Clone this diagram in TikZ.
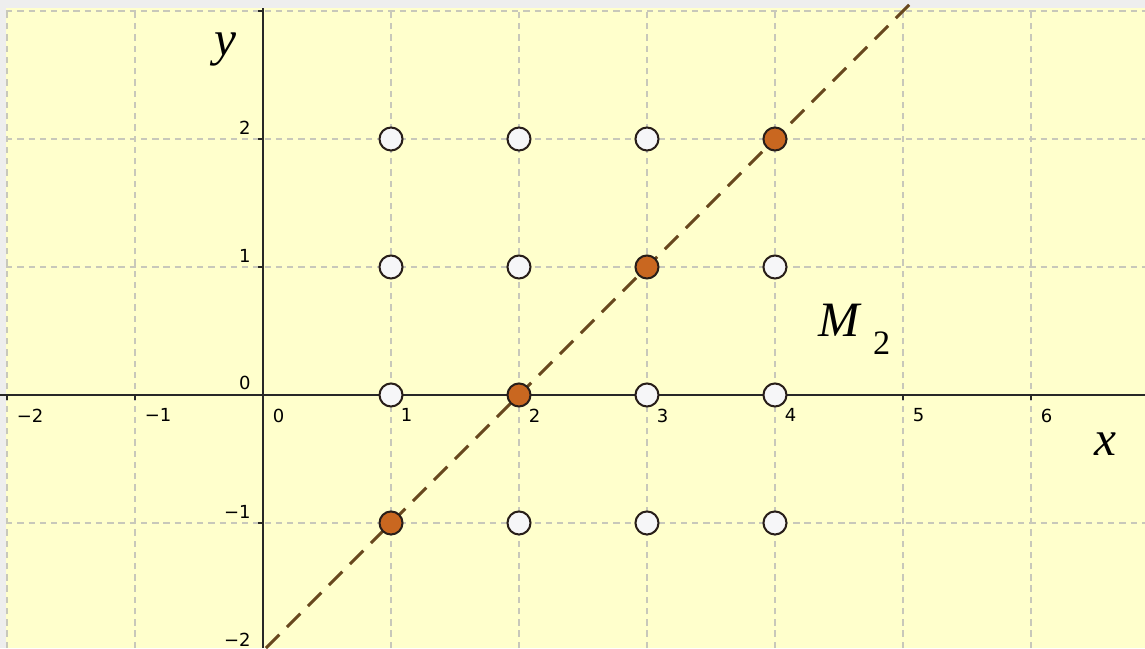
\documentclass[tikz,border=0pt]{standalone}
\usepackage{fontspec}
\setmainfont{Liberation Serif}
\newfontfamily\tickfont{DejaVu Sans}

\definecolor{bgframe}{RGB}{238,238,238}
\definecolor{bgplot}{RGB}{255,255,204}
\definecolor{gridcol}{RGB}{200,200,186}
\definecolor{axiscol}{RGB}{40,40,40}
\definecolor{lncol}{RGB}{104,72,30}
\definecolor{ptorange}{RGB}{201,103,32}
\definecolor{ptwhite}{RGB}{246,246,248}
\definecolor{ptline}{RGB}{40,30,25}

\begin{document}
\begin{tikzpicture}[x=1cm, y=1cm,
  ptfree/.style={shape=circle, draw=ptline, fill=ptwhite, line width=0.45pt, minimum size=0.18cm, inner sep=0pt},
  ptsol/.style={ptfree, fill=ptorange},
  gridln/.style={draw=gridcol, line width=0.25pt, dash pattern=on 1.4pt off 1.1pt},
  axisln/.style={draw=axiscol, line width=0.5pt},
  solline/.style={draw=lncol, line width=0.65pt, dash pattern=on 4.2pt off 2.4pt},
  ticklab/.style={font=\tickfont\fontsize{4}{4}\selectfont, inner sep=0pt},
  axlab/.style={font=\fontsize{11}{11}\selectfont\itshape, inner sep=0pt}]
\useasboundingbox (-2.055,-1.977) rectangle (6.891,3.086);
\fill[bgframe] (-2.055,-1.977) rectangle (6.891,3.086);
\fill[bgplot] (-2.008,-1.977) rectangle (6.891,3.023);

% grid
\begin{scope}
\clip (-2.008,-1.977) rectangle (6.891,3.023);
\foreach \x in {-2,...,6}
  \draw[gridln] (\x,-1.977) -- (\x,3.023);
\foreach \y in {-1,...,3}
  \draw[gridln] (-2.008,\y) -- (6.891,\y);
\end{scope}

% axes and ticks
\draw[axisln] (-2.055,0) -- (6.891,0);
\draw[axisln] (0,-1.977) -- (0,3.023);
\foreach \x in {-2,...,6}
  \draw[axisln] (\x,0) -- (\x,-0.04);
\foreach \y in {-1,...,3}
  \draw[axisln] (0,\y) -- (-0.04,\y);

% tick labels
\foreach \x/\t in {-2/−2,-1/−1,0/0,1/1,2/2,3/3,4/4,5/5,6/6}
  \node[ticklab, anchor=north west] (tx\x) at (\x+0.07,-0.1) {\t};
\foreach \y/\t in {-2/−2,-1/−1,0/0,1/1,2/2}
  \node[ticklab, anchor=south east] (ty\y) at (-0.09,\y+0.03) {\t};

% axis names
\node[axlab] (ylab) at (-0.297,2.70) {y};
\node[axlab] (xlab) at (6.586,-0.383) {x};
\node[inner sep=0pt, anchor=base west] (mlab) at (4.33,0.46)
  {\fontsize{11}{11}\selectfont\textit{M}\hspace{0.09cm}\raisebox{-0.14cm}{\fontsize{7.6}{7.6}\selectfont 2}};

% solution line
\coordinate (lnbot) at (0.023,-1.977);
\coordinate (lntop) at (5.09,3.09);
\draw[solline] (lnbot) -- (lntop);

% points
\node[ptfree] (p12) at (1,2) {};
\node[ptfree] (p22) at (2,2) {};
\node[ptfree] (p32) at (3,2) {};
\node[ptsol] (p42) at (4,2) {};
\node[ptfree] (p11) at (1,1) {};
\node[ptfree] (p21) at (2,1) {};
\node[ptsol] (p31) at (3,1) {};
\node[ptfree] (p41) at (4,1) {};
\node[ptfree] (p10) at (1,0) {};
\node[ptsol] (p20) at (2,0) {};
\node[ptfree] (p30) at (3,0) {};
\node[ptfree] (p40) at (4,0) {};
\node[ptsol] (p1m) at (1,-1) {};
\node[ptfree] (p2m) at (2,-1) {};
\node[ptfree] (p3m) at (3,-1) {};
\node[ptfree] (p4m) at (4,-1) {};
\end{tikzpicture}
\end{document}
